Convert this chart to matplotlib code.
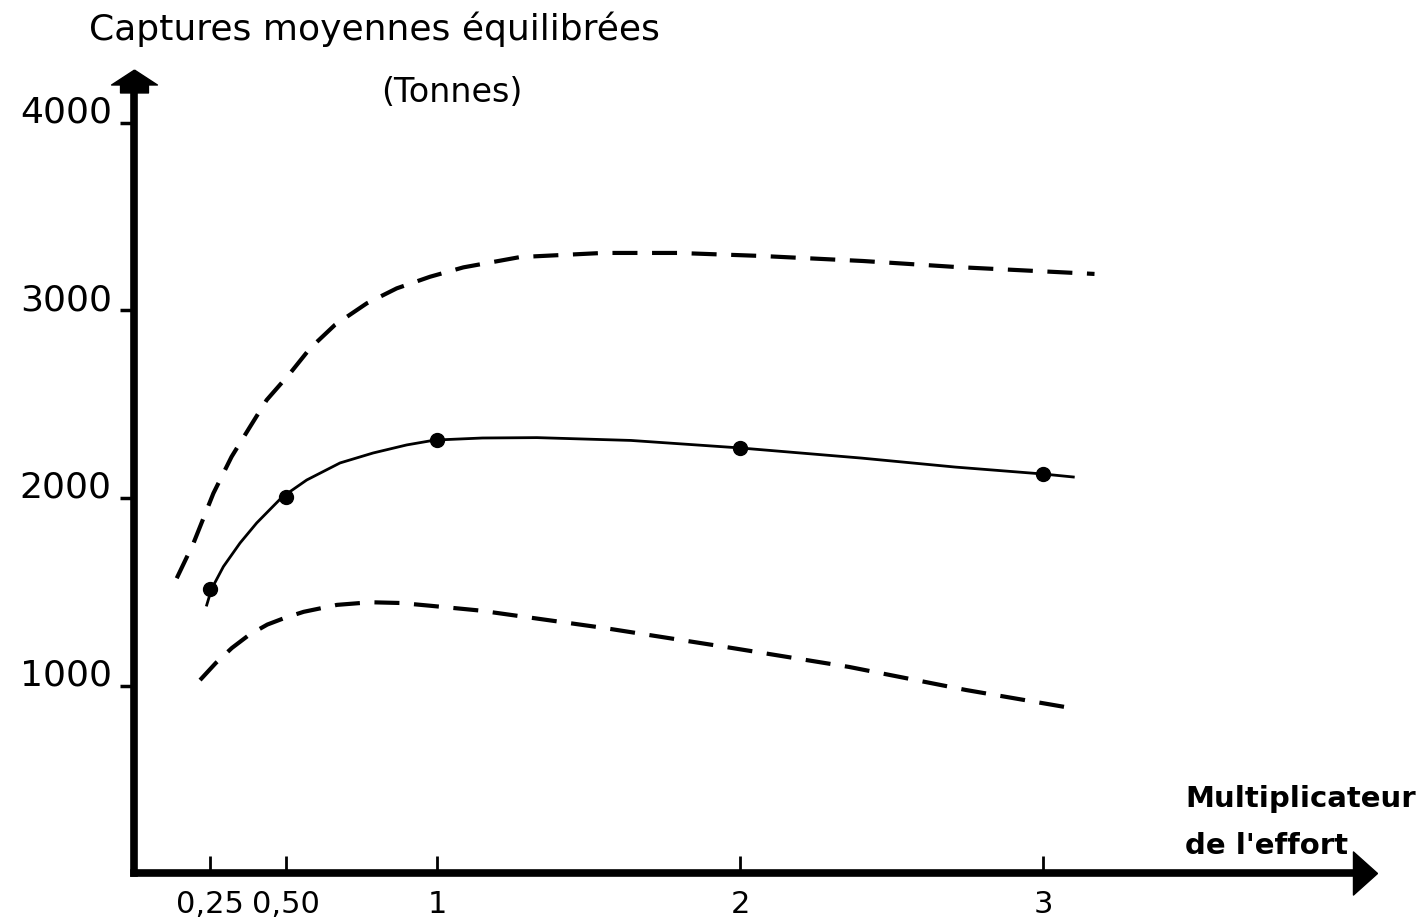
import matplotlib
matplotlib.use('Agg')
import matplotlib.pyplot as plt
from matplotlib.path import Path

# effort multipliers with computed equilibrium catches
effort = [0.25, 0.5, 1, 2, 3]
catches = [1515, 2005, 2309, 2267, 2128]

# mean curve
mean_x = [0.24, 0.256, 0.295, 0.35, 0.405, 0.489, 0.57, 0.68, 0.789, 0.9, 0.993, 1.15, 1.33, 1.64, 2.0, 2.4, 2.71, 3.0, 3.1]
mean_y = [1429, 1515, 1634, 1760, 1867, 2005, 2096, 2187, 2240, 2283, 2309, 2320, 2322, 2307, 2267, 2213, 2165, 2128, 2112]

# upper and lower envelopes (dashed)
upper_x = [0.141, 0.196, 0.262, 0.322, 0.383, 0.438, 0.515, 0.581, 0.663, 0.768, 0.867, 0.977, 1.087, 1.274,
           1.548, 1.795, 2.069, 2.406, 2.713, 3.17]
upper_y = [1572, 1758, 2025, 2220, 2380, 2523, 2665, 2798, 2923, 3038, 3118, 3180, 3230, 3285,
           3307, 3307, 3291, 3264, 3232, 3195]
lower_x = [0.218, 0.27, 0.323, 0.38, 0.44, 0.5, 0.56, 0.67, 0.78, 0.88, 0.98, 1.14, 1.551, 1.974, 2.36, 2.746, 3.092]
lower_y = [1029, 1120, 1200, 1270, 1325, 1362, 1393, 1430, 1444, 1440, 1425, 1400, 1307, 1200, 1099, 976, 880]

xticks = [0.25, 0.5, 1, 2, 3]
xlabels = ['0,25', '0,50', '1', '2', '3']
yticks = [1000, 2000, 3000, 4000]
ylabels = ['1000', '2000', '3000', '4000']

W, H = 1428, 922
fig = plt.figure(figsize=(W / 100, H / 100), dpi=100)
ax = fig.add_axes([134 / W, (H - 873) / H, (1365 - 134) / W, (873 - 81.5) / H])
ax.set_xlim(0, 1231 / 303)
ax.set_ylim(0, 791.5 / 0.1875)

ax.plot(upper_x, upper_y, color='black', lw=3, dashes=(6, 3.5))
ax.plot(lower_x, lower_y, color='black', lw=3, dashes=(6, 3.5))
ax.plot(mean_x, mean_y, color='black', lw=2)
ax.plot(effort, catches, 'o', color='black', markersize=10)

for s in ['top', 'right']:
    ax.spines[s].set_visible(False)
for s in ['left', 'bottom']:
    ax.spines[s].set_linewidth(5.5)
    ax.spines[s].set_capstyle('projecting')

# arrow heads at the ends of the axes
house = Path([(0, 11.5), (23, -3.5), (14, -3.5), (14, -11.5), (-14, -11.5), (-14, -3.5), (-23, -3.5), (0, 11.5)])
tri = Path([(12, 0), (-12, 21.5), (-12, -21.5), (12, 0)])
ax.plot(0, 1, marker=house, markersize=33, color='black', transform=ax.get_xaxis_transform(), clip_on=False)
ax.plot(1, 0, marker=tri, markersize=31, color='black', transform=ax.get_yaxis_transform(), clip_on=False)

ax.set_xticks(xticks)
ax.set_xticklabels(xlabels, fontsize=22)
ax.set_yticks(yticks)
ax.set_yticklabels(ylabels, fontsize=26)
ax.tick_params(axis='x', direction='in', length=12, width=2, pad=12)
ax.tick_params(axis='y', direction='out', length=10, width=2.5, pad=6)
for lab in ax.get_yticklabels():
    lab.set_verticalalignment('baseline')

fig.text(89 / W, 1 - 40 / H, 'Captures moyennes équilibrées', fontsize=26, va='baseline', ha='left')
fig.text(452 / W, 1 - 93 / H, '(Tonnes)', fontsize=24, va='center', ha='center')
fig.text(1185 / W, 1 - 807 / H, 'Multiplicateur', fontsize=21, fontweight='bold', va='baseline', ha='left')
fig.text(1185 / W, 1 - 854 / H, "de l'effort", fontsize=21, fontweight='bold', va='baseline', ha='left')

fig.savefig('out.png', dpi=100)
